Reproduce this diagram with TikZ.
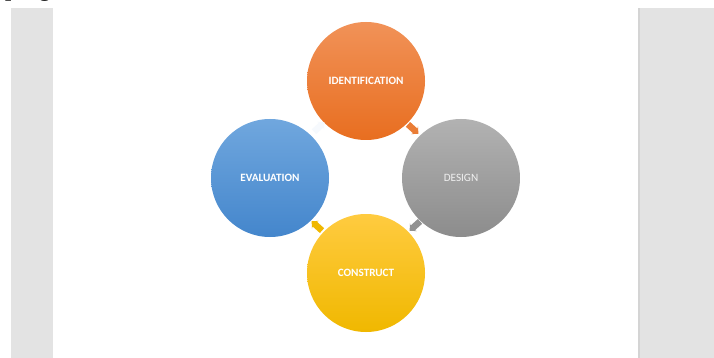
\documentclass[tikz,border=0pt]{standalone}
\usepackage{fontspec}
\setmainfont{Liberation Serif}
\newfontfamily\lbl{Carlito}
\usetikzlibrary{shapes.arrows}
\definecolor{panel}{RGB}{227,227,227}
\definecolor{panedge}{RGB}{212,212,212}
\definecolor{orT}{RGB}{241,146,88}
\definecolor{orB}{RGB}{232,110,32}
\definecolor{blT}{RGB}{112,167,222}
\definecolor{blB}{RGB}{68,134,204}
\definecolor{grT}{RGB}{178,178,178}
\definecolor{grB}{RGB}{140,140,140}
\definecolor{yeT}{RGB}{255,203,64}
\definecolor{yeB}{RGB}{240,184,0}
\tikzset{
  stage/.style={circle, draw=none, minimum size=118pt, inner sep=0pt, text=white,
    font=\lbl\bfseries\fontsize{11.2}{13}\selectfont},
  cyc/.style={single arrow, draw=none, minimum height=14pt, minimum width=10pt,
    single arrow head extend=2pt, single arrow head indent=1pt, inner sep=3pt}
}
\begin{document}
\begin{tikzpicture}[x=1pt,y=-1pt]
\useasboundingbox (0,0) rectangle (714,358);
\fill[white] (0,0) rectangle (714,358);
% side panels
\fill[panel] (11,8) rectangle (53,358);
\fill[panel] (638,8) rectangle (714,358);
\fill[panedge] (638,8) rectangle (640,358);
% clipped heading text at top
\begin{scope}
\clip (0,0) rectangle (714,4);
\node[anchor=base west, inner sep=0pt] (head) at (5,-3) {\bfseries\fontsize{22}{22}\selectfont p\hspace{22pt}g};
\end{scope}
% stages
\node[stage, top color=orT, bottom color=orB] (id) at (366,81) {IDENTIFICATION};
\node[stage, top color=grT, bottom color=grB, font=\lbl\fontsize{11.2}{13}\selectfont, text={rgb,255:red,240;green,240;blue,240}] (des) at (461,178) {DESIGN};
\node[stage, top color=yeT, bottom color=yeB] (con) at (366,273) {CONSTRUCT};
\node[stage, top color=blT, bottom color=blB] (eva) at (270,178) {EVALUATION};
% cycle arrows
\node[cyc, fill=orB!90!white, rotate=-42] (a1) at (412,128) {};
\node[cyc, fill=grB!95!white, rotate=-138] (a2) at (416,225) {};
\node[cyc, fill=yeB, rotate=138] (a3) at (318,227) {};
\node[cyc, fill={rgb,255:red,246;green,249;blue,253}, rotate=42] (a4) at (318,128) {};
\end{tikzpicture}
\end{document}
